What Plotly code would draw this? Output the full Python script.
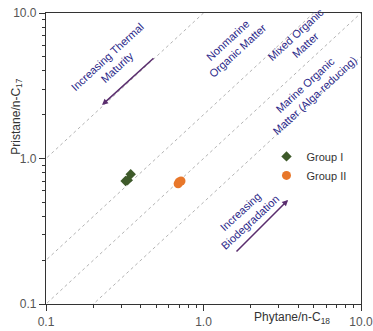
import plotly.graph_objects as go

# Data
group1_x = [0.32, 0.33, 0.345]
group1_y = [0.70, 0.71, 0.78]
group2_x = [0.69, 0.70, 0.72]
group2_y = [0.67, 0.69, 0.70]
ratio_lines = [10, 2, 1, 0.5]
tick_vals = [0.1, 1, 10]
tick_text = ["0.1", "1.0", "10.0"]
minor_vals = [0.2, 0.3, 0.4, 0.5, 0.6, 0.7, 0.8, 0.9, 2, 3, 4, 5, 6, 7, 8, 9]

FONT = "Liberation Sans, Arial, sans-serif"
TXT = "#2d2a8a"
ARROW = "#5a2d6e"

fig = go.Figure()
for k in ratio_lines:
    fig.add_trace(go.Scatter(x=[0.01, 100], y=[0.01 * k, 100 * k], mode="lines",
                             line=dict(color="#a0a0a0", width=0.8, dash="dot"),
                             showlegend=False, hoverinfo="skip"))

fig.add_trace(go.Scatter(x=group1_x, y=group1_y, mode="markers", name="Group I",
                         marker=dict(symbol="diamond", size=8, color="#3e5a2a")))
fig.add_trace(go.Scatter(x=group2_x, y=group2_y, mode="markers", name="Group II",
                         marker=dict(symbol="circle", size=9, color="#e8772a")))

ann = []
def txt(x, y, t):
    ann.append(dict(x=x, y=y, xref="x", yref="y", text=t, showarrow=False, textangle=-42.7,
                    font=dict(family=FONT, size=11, color=TXT), align="center"))

txt(-0.581, 0.663, "Increasing Thermal<br>Maturity")
txt(0.187, 0.780, "Nonmarine<br>Organic Matter")
txt(0.613, 0.814, "Mixed Organic<br>Matter")
txt(0.676, 0.471, "Marine Organic<br>Matter (Alga-reducing)")
txt(0.262, -0.400, "Increasing<br>Biodegradation")

def arrow(tx, ty, hx, hy):
    ann.append(dict(x=hx, y=hy, ax=tx, ay=ty, xref="x", yref="y", axref="x", ayref="y",
                    text="", showarrow=True, arrowhead=2, arrowsize=0.8, arrowwidth=1.5,
                    arrowcolor=ARROW))

arrow(-0.308, 0.698, -0.644, 0.368)
arrow(0.200, -0.649, 0.537, -0.285)

ann.append(dict(x=-0.125, y=0.78, xref="paper", yref="paper", text="Pristane/n-C<sub>17</sub>",
                showarrow=False, textangle=-90, font=dict(family=FONT, size=12, color="#333")))
ann.append(dict(x=0.78, y=-0.048, xref="paper", yref="paper", text="Phytane/n-C<sub>18</sub>",
                showarrow=False, xanchor="center", yanchor="middle",
                font=dict(family=FONT, size=12, color="#333")))

axis_common = dict(type="log", range=[-1, 1], tickvals=tick_vals, ticktext=tick_text,
                   ticks="outside", ticklen=6, tickcolor="#333", showgrid=False, zeroline=False,
                   showline=True, linecolor="#333", linewidth=1.2, mirror=True, automargin=False,
                   ticklabeloverflow="allow",
                   tickfont=dict(family=FONT, size=12, color="#555"),
                   minor=dict(tickvals=minor_vals, ticks="outside", ticklen=3,
                              tickcolor="#333", showgrid=False))

fig.update_layout(
    width=373, height=331,
    margin=dict(l=46, r=12, t=13, b=27),
    plot_bgcolor="white", paper_bgcolor="white",
    xaxis=axis_common, yaxis=axis_common,
    annotations=ann,
    legend=dict(x=0.70, y=0.557, xanchor="left", yanchor="top", bgcolor="rgba(0,0,0,0)",
                font=dict(family=FONT, size=11, color="#333"), itemwidth=30, tracegroupgap=0),
)
fig.write_html("out.html", config={"displayModeBar": False},
               post_script="document.body.style.margin='0';")
